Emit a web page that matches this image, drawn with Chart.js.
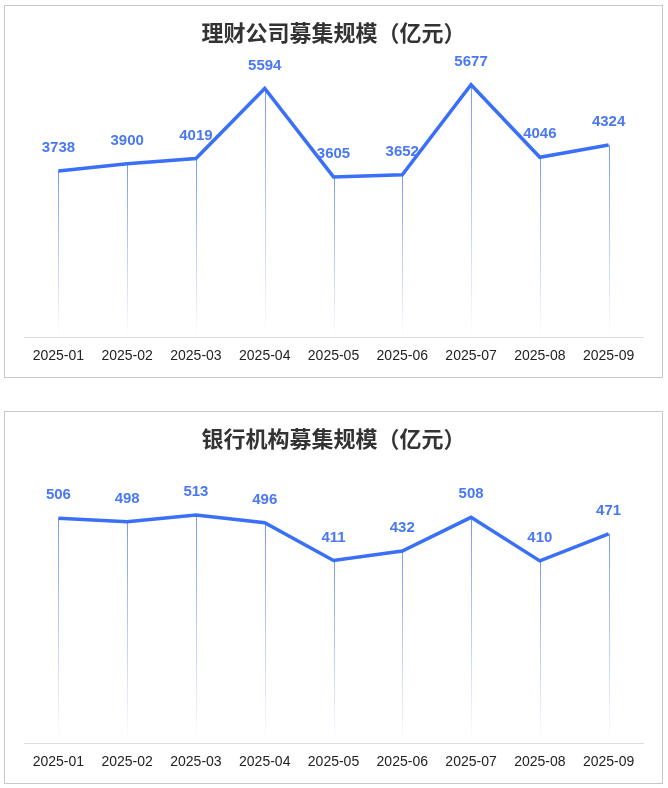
<!DOCTYPE html>
<html>
<head>
<meta charset="utf-8">
<script src="https://cdn.jsdelivr.net/npm/chart.js@4"></script>
<style>
  body { margin: 0; background: #fff; width: 668px; height: 788px; position: relative; }
  .panel { position: absolute; left: 4px; width: 657px; height: 371px; border: 1px solid #c8c8c8; background: #fff; }
  #p1 { top: 5px; }
  #p2 { top: 411px; }
  canvas { display: block; }
</style>
</head>
<body>
<div class="panel" id="p1"><canvas id="chart1" width="657" height="371"></canvas></div>
<div class="panel" id="p2"><canvas id="chart2" width="657" height="371"></canvas></div>
<script>
const months = ['2025-01', '2025-02', '2025-03', '2025-04', '2025-05', '2025-06', '2025-07', '2025-08', '2025-09'];
const wealthValues = [3738, 3900, 4019, 5594, 3605, 3652, 5677, 4046, 4324];
const bankValues = [506, 498, 513, 496, 411, 432, 508, 410, 471];
const wealthTitle = '理财公司募集规模（亿元）';
const bankTitle = '银行机构募集规模（亿元）';

const lineColor = '#3a6ff7';

// 每个点往下画一条渐隐的竖线
const dropLines = {
    id: 'dropLines',
    beforeDatasetsDraw(chart) {
        const c = chart.ctx;
        const bottom = chart.chartArea.bottom;
        chart.getDatasetMeta(0).data.forEach(pt => {
            const g = c.createLinearGradient(0, pt.y, 0, bottom);
            g.addColorStop(0, 'rgba(70,120,250,0.75)');
            g.addColorStop(1, 'rgba(70,120,250,0)');
            c.save();
            c.strokeStyle = g;
            c.lineWidth = 1;
            c.beginPath();
            c.moveTo(Math.round(pt.x) + 0.5, pt.y);
            c.lineTo(Math.round(pt.x) + 0.5, bottom);
            c.stroke();
            c.restore();
        });
    }
};

// 数值标签
const valueLabels = {
    id: 'valueLabels',
    afterDatasetsDraw(chart) {
        const c = chart.ctx;
        const values = chart.data.datasets[0].data;
        c.save();
        c.font = 'bold 15px "Liberation Sans", Arial, sans-serif';
        c.fillStyle = '#4a78f5';
        c.textAlign = 'center';
        c.textBaseline = 'middle';
        chart.getDatasetMeta(0).data.forEach((pt, i) => {
            c.fillText(values[i], pt.x, pt.y - 23);
        });
        c.restore();
    }
};

function makeChart(id, title, values, maxVal) {
    return new Chart(document.getElementById(id), {
        type: 'line',
        data: {
            labels: months,
            datasets: [{
                data: values,
                borderColor: lineColor,
                borderWidth: 3.5,
                pointRadius: 0,
                tension: 0,
                fill: false
            }]
        },
        options: {
            responsive: false,
            animation: false,
            layout: { padding: { left: 19, right: 19, top: 0, bottom: 1 } },
            plugins: {
                legend: { display: false },
                tooltip: { enabled: false },
                title: {
                    display: true,
                    text: title,
                    color: '#333',
                    font: { family: '"Noto Sans CJK SC"', size: 22, weight: 'bold' },
                    padding: { top: 13, bottom: 25 }
                }
            },
            scales: {
                x: {
                    offset: true,
                    grid: { display: false, drawTicks: false },
                    border: { display: true, color: '#dddddd', width: 1 },
                    ticks: {
                        color: '#222',
                        padding: 11,
                        maxRotation: 0,
                        font: { family: '"Liberation Sans", Arial, sans-serif', size: 14 }
                    }
                },
                y: {
                    display: false,
                    min: 0,
                    max: maxVal
                }
            }
        },
        plugins: [dropLines, valueLabels]
    });
}

makeChart('chart1', wealthTitle, wealthValues, 6000);
makeChart('chart2', bankTitle, bankValues, 600);
</script>
</body>
</html>
